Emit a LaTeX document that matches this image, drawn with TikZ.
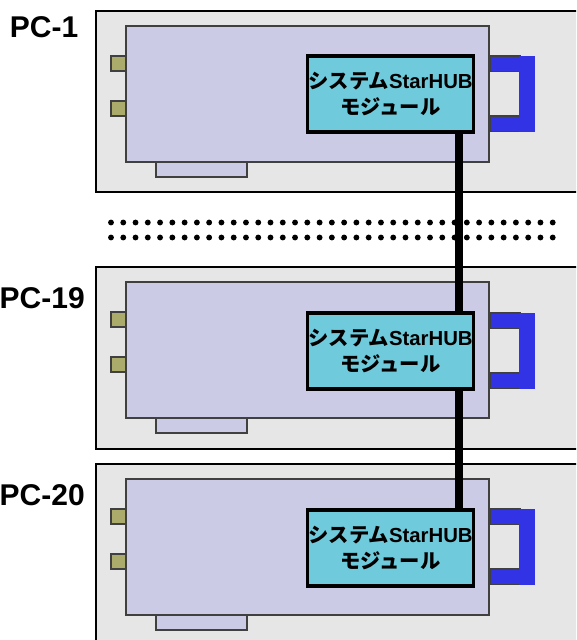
\documentclass[tikz,border=0pt]{standalone}
\usepackage{fontspec}
\setmainfont{Liberation Sans}
\newfontfamily\cjkf{Noto Sans CJK JP Bold}
\tikzset{
  x=0.75pt,y=-0.75pt,
  box/.style={draw,rectangle,inner sep=0pt,outer sep=0pt,anchor=north west},
  pcbox/.style={box,fill=pcgray,draw=black,line width=1.5pt},
  cardbox/.style={box,fill=cardc,draw=edge,line width=1.1pt},
  portbox/.style={box,fill=portc,draw=edge,line width=1.1pt,minimum width=11.25pt,minimum height=11.25pt},
  tabbox/.style={box,fill=bluec,draw=edge,line width=0.8pt,minimum width=22.5pt,minimum height=11.5pt},
  barbox/.style={rectangle,inner sep=0pt,outer sep=0pt,anchor=north west,fill=bluec,minimum width=12pt,minimum height=57pt},
  modbox/.style={box,fill=modc,draw=black,line width=2.8pt,minimum width=124.5pt,minimum height=57pt,align=center,font=\bfseries\fontsize{15.25pt}{19.5pt}\selectfont},
  pclabel/.style={anchor=base east,inner sep=0pt,font=\bfseries\fontsize{22.5pt}{24pt}\selectfont},
  link/.style={draw=black,line width=6pt},
  dotmark/.style={circle,fill=black,inner sep=0pt,minimum size=4.4pt}
}
\definecolor{pcgray}{HTML}{E6E6E6}
\definecolor{cardc}{HTML}{CBCBE6}
\definecolor{edge}{HTML}{404040}
\definecolor{portc}{HTML}{ABAB6B}
\definecolor{bluec}{HTML}{3333E6}
\definecolor{modc}{HTML}{6FCBDC}
\begin{document}
\begin{tikzpicture}
\useasboundingbox (0,0) rectangle (576,640);
\clip (0,0) rectangle (576,640);
\foreach \i in {0,...,36}{
  \node[dotmark] (da\i) at ({111+12.27*\i},222.5) {};
  \node[dotmark] (db\i) at ({111+12.27*\i},237.5) {};
}
\foreach \n/\dy/\hh/\lab/\lx/\ly/\my/\by in {1/0/181/PC-1/78.5/37/0/0,2/256/182/PC-19/85/308/257/257,3/453/190/PC-20/85/505/454/453}{
  \node[pcbox,minimum width=400pt,minimum height={\hh*0.75pt}] (pc\n) at (96,{11+\dy}) {};
  \node[box,fill=cardc,draw=edge,line width=1.1pt,minimum width=68.25pt,minimum height=11.25pt] (slot\n) at (156,{162+\dy}) {};
  \node[portbox] (pa\n) at (111,{56+\dy}) {};
  \node[portbox] (pb\n) at (111,{101+\dy}) {};
  \node[cardbox,minimum width=272.25pt,minimum height=102pt] (card\n) at (126,{26+\dy}) {};
  \node[tabbox] (ta\n) at (490,{56+\by}) {};
  \node[tabbox] (tb\n) at (490,{116+\by}) {};
  \node[barbox] (bar\n) at (519,{56+\by}) {};
  \node[pclabel] (lab\n) at (\lx,\ly) {\lab};
  \node[modbox] (m\n) at (307.5,{56+\my}) {{\cjkf システム}StarHUB\\{\cjkf モジュール}};
}
\draw[link] ([xshift=-11.2pt]m1.south east) -- ([xshift=-11.2pt]m2.north east);
\draw[link] ([xshift=-11.2pt]m2.south east) -- ([xshift=-11.2pt]m3.north east);
\end{tikzpicture}
\end{document}
